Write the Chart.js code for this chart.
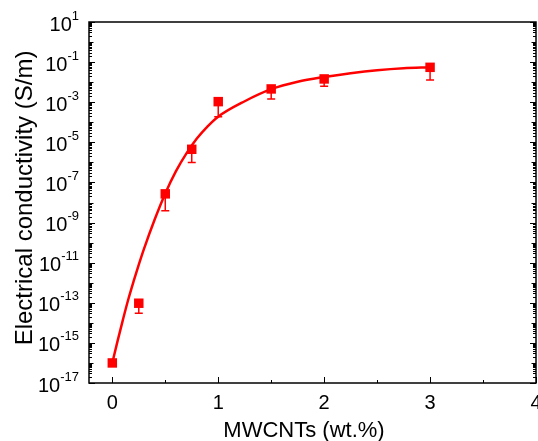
<!DOCTYPE html>
<html>
<head>
<meta charset="utf-8">
<script src="https://cdn.jsdelivr.net/npm/chart.js@4.4.1/dist/chart.umd.min.js"></script>
<style>
html,body{margin:0;padding:0;background:#fff;}
canvas{display:block;}
</style>
</head>
<body>
<canvas id="c" width="538" height="441"></canvas>
<script>
// ---- data ----
const loadings = [0, 0.25, 0.5, 0.75, 1, 1.5, 2, 3];               // MWCNTs (wt.%)
const conductivity = [1e-16, 9.5e-14, 2.7e-8, 4.5e-6, 1.07e-3, 4.6e-3, 1.45e-2, 5.5e-2]; // S/m
const errorLower = [null, 3.0e-14, 3.9e-9, 9.8e-7, 1.9e-4, 1.45e-3, 6.2e-3, 1.3e-2];
const fitX = [0, 0.05, 0.1, 0.15, 0.2, 0.25, 0.3, 0.4, 0.5, 0.6, 0.7, 0.8, 0.9, 1.0, 1.25, 1.5, 1.75, 2.0, 2.25, 2.5, 2.75, 3.0];
const fitY = [1e-16, 1.26e-15, 1.41e-14, 1.41e-13, 1.12e-12, 7.94e-12, 5.01e-11, 1.41e-9, 2.82e-8, 3.55e-7, 2.82e-6, 1.58e-5, 6.31e-5, 1.91e-4, 1.12e-3, 4.47e-3, 1.05e-2, 1.82e-2, 2.82e-2, 3.98e-2, 5.01e-2, 5.62e-2];
const xTicks = [0, 1, 2, 3, 4];
const yTickExponents = [1, -1, -3, -5, -7, -9, -11, -13, -15, -17];
const xTitle = 'MWCNTs (wt.%)';
const yTitle = 'Electrical conductivity (S/m)';

const RED = '#ff0000';
const FONT = '"Liberation Sans", Arial, sans-serif';

const pointData = loadings.map((x, i) => ({x: x, y: conductivity[i]}));
const fitData = fitX.map((x, i) => ({x: x, y: fitY[i]}));

const decor = {
  id: 'decor',
  beforeDatasetsDraw(chart) {
    const ctx = chart.ctx, xs = chart.scales.x, ys = chart.scales.y;
    ctx.save();
    ctx.strokeStyle = RED;
    ctx.lineWidth = 1.5;
    loadings.forEach((x, i) => {
      if (errorLower[i] == null) return;
      const px = xs.getPixelForValue(x);
      const py = ys.getPixelForValue(conductivity[i]);
      const pl = ys.getPixelForValue(errorLower[i]);
      ctx.beginPath();
      ctx.moveTo(px, py); ctx.lineTo(px, pl);
      ctx.moveTo(px - 4, pl); ctx.lineTo(px + 4, pl);
      ctx.stroke();
    });
    ctx.restore();
  },
  afterDraw(chart) {
    const ctx = chart.ctx, a = chart.chartArea, xs = chart.scales.x, ys = chart.scales.y;
    ctx.save();
    // frame
    ctx.strokeStyle = '#000';
    ctx.lineWidth = 1.5;
    ctx.strokeRect(a.left, a.top, a.right - a.left, a.bottom - a.top);
    // y ticks (log, inward, both sides)
    ctx.lineWidth = 1;
    ctx.beginPath();
    for (let n = -17; n <= 1; n++) {
      const major = yTickExponents.includes(n);
      for (let k = 1; k <= 9; k++) {
        if (n === 1 && k > 1) break;
        const v = k * Math.pow(10, n);
        const py = Math.round(ys.getPixelForValue(v)) + 0.5;
        const len = (k === 1) ? (major ? 6 : 4.5) : 3;
        ctx.moveTo(a.left, py); ctx.lineTo(a.left + len, py);
        ctx.moveTo(a.right, py); ctx.lineTo(a.right - len, py);
      }
    }
    // x ticks (inward, bottom only)
    for (let t = 0; t <= 8; t++) {
      const v = t / 2;
      const px = Math.round(xs.getPixelForValue(v)) + 0.5;
      const len = (t % 2 === 0) ? 6 : 3;
      ctx.moveTo(px, a.bottom); ctx.lineTo(px, a.bottom - len);
    }
    ctx.stroke();
    // y tick labels with superscripts
    ctx.fillStyle = '#000';
    ctx.textBaseline = 'alphabetic';
    ctx.textAlign = 'left';
    yTickExponents.forEach(n => {
      const py = ys.getPixelForValue(Math.pow(10, n));
      const sup = String(n);
      ctx.font = '20px ' + FONT;
      const wb = ctx.measureText('10').width;
      ctx.font = '13px ' + FONT;
      const ws = ctx.measureText(sup).width;
      const x0 = 79 - wb - ws;
      ctx.font = '20px ' + FONT;
      ctx.fillText('10', x0, py + 8.5);
      ctx.font = '13px ' + FONT;
      ctx.fillText(sup, x0 + wb, py - 2.5);
    });
    // axis titles
    ctx.font = '22px ' + FONT;
    ctx.textAlign = 'center';
    ctx.fillText(xTitle, 304, 437);
    ctx.save();
    ctx.translate(32, 198);
    ctx.rotate(-Math.PI / 2);
    ctx.font = '24px ' + FONT;
    ctx.fillText(yTitle, 0, 0);
    ctx.restore();
    ctx.restore();
  }
};

new Chart(document.getElementById('c'), {
  type: 'scatter',
  data: {
    datasets: [
      {
        label: 'fit',
        data: fitData,
        showLine: true,
        borderColor: RED,
        borderWidth: 2.5,
        pointRadius: 0,
        cubicInterpolationMode: 'monotone',
        fill: false,
        order: 2
      },
      {
        label: 'measured',
        data: pointData,
        showLine: false,
        pointStyle: 'rect',
        pointRadius: 6.7,
        pointBackgroundColor: RED,
        pointBorderWidth: 0,
        pointBorderColor: RED,
        order: 1
      }
    ]
  },
  options: {
    responsive: false,
    animation: false,
    events: [],
    layout: {autoPadding: false, padding: {left: 0, top: 22, right: 2, bottom: 0}},
    plugins: {legend: {display: false}, tooltip: {enabled: false}},
    scales: {
      x: {
        type: 'linear',
        min: -0.22,
        max: 4,
        afterBuildTicks(scale) { scale.ticks = xTicks.map(v => ({value: v})); },
        afterFit(scale) { scale.height = 58; scale.paddingLeft = 0; scale.paddingRight = 0; },
        grid: {display: false, drawTicks: false},
        border: {display: false},
        ticks: {color: '#000', font: {family: FONT, size: 20}, padding: 8, maxRotation: 0}
      },
      y: {
        type: 'logarithmic',
        min: 1e-17,
        max: 10,
        afterFit(scale) { scale.width = 89; scale.paddingTop = 0; scale.paddingBottom = 0; },
        grid: {display: false, drawTicks: false},
        border: {display: false},
        ticks: {display: false}
      }
    }
  },
  plugins: [decor]
});
</script>
</body>
</html>
